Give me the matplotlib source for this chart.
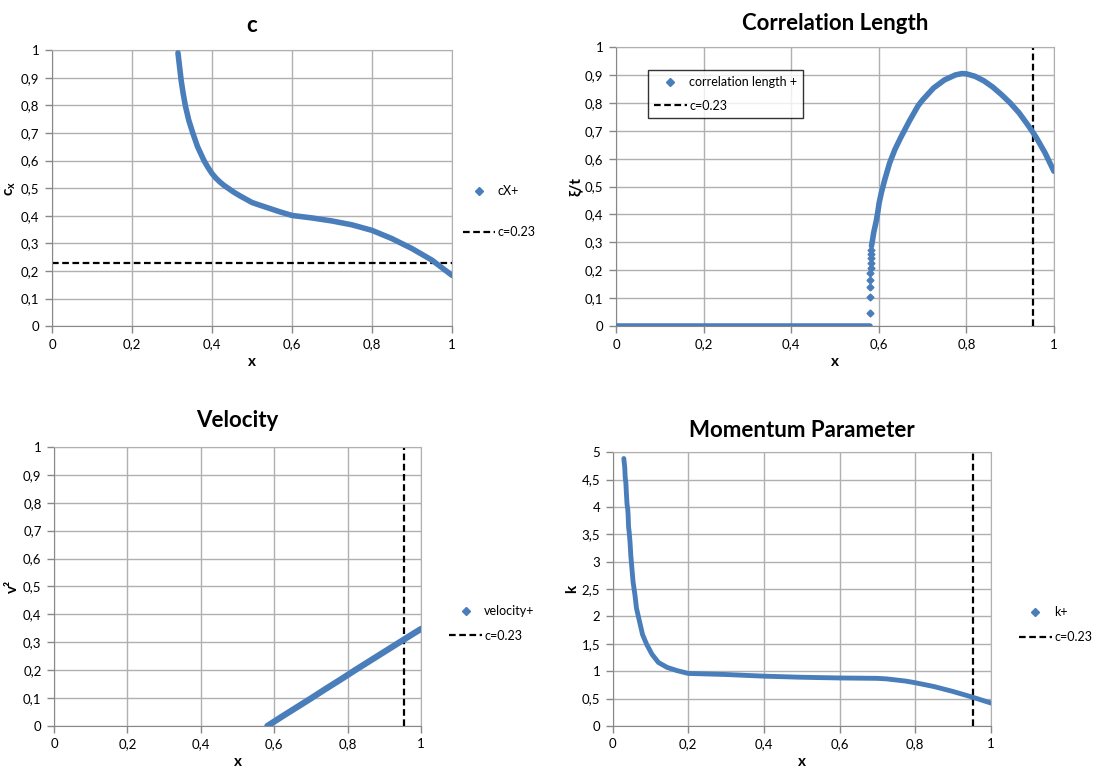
import matplotlib
matplotlib.use("Agg")
import matplotlib.pyplot as plt
from matplotlib.ticker import FuncFormatter, MultipleLocator

plt.rcParams['font.family'] = ['Lato', 'DejaVu Sans']
plt.rcParams['mathtext.fontset'] = 'custom'
plt.rcParams['mathtext.rm'] = 'Lato'
plt.rcParams['mathtext.it'] = 'Lato:italic'
plt.rcParams['mathtext.bf'] = 'Lato:bold'

# ---- data ----
# c panel
c_x = [0.315, 0.319, 0.323, 0.328, 0.334, 0.342, 0.352, 0.364, 0.380, 0.390,
       0.400, 0.410, 0.420, 0.430, 0.440, 0.455, 0.470, 0.485, 0.500, 0.520,
       0.545, 0.570, 0.60, 0.65, 0.70, 0.75, 0.80, 0.85, 0.90, 0.95, 1.00]
c_y = [0.99, 0.94, 0.89, 0.843, 0.795, 0.746, 0.70, 0.65, 0.60, 0.575,
       0.553, 0.536, 0.522, 0.51, 0.50, 0.485, 0.472, 0.46, 0.448, 0.438,
       0.426, 0.414, 0.401, 0.392, 0.381, 0.367, 0.347, 0.317, 0.281, 0.239, 0.184]
c_ref = 0.23

# correlation length panel
corr_x_flat = [0.0, 0.1, 0.2, 0.3, 0.4, 0.5, 0.58]
corr_y_flat = [0, 0, 0, 0, 0, 0, 0]
corr_x_jump = [0.5800, 0.5802, 0.5805, 0.5808, 0.5811, 0.5814, 0.5817, 0.5820, 0.5824, 0.5828]
corr_y_jump = [0.048, 0.106, 0.139, 0.166, 0.189, 0.209, 0.227, 0.243, 0.257, 0.272]
corr_x_curve = [0.5835, 0.586, 0.5885, 0.592, 0.595, 0.598, 0.601, 0.606, 0.614, 0.625,
                0.637, 0.65, 0.67, 0.69, 0.70, 0.725, 0.75, 0.775, 0.79, 0.80,
                0.82, 0.84, 0.86, 0.88, 0.90, 0.92, 0.94, 0.953, 0.96, 0.98, 1.0]
corr_y_curve = [0.287, 0.31, 0.335, 0.36, 0.382, 0.41, 0.442, 0.478, 0.526, 0.585,
                0.633, 0.675, 0.735, 0.79, 0.81, 0.853, 0.882, 0.90, 0.905, 0.904,
                0.895, 0.879, 0.857, 0.83, 0.80, 0.765, 0.722, 0.692, 0.675, 0.62, 0.555]

# velocity panel
v_x = [0.581, 0.62, 0.66, 0.70, 0.74, 0.78, 0.82, 0.86, 0.90, 0.94, 0.98, 1.0]
v_y = [0.0, 0.033, 0.066, 0.099, 0.133, 0.166, 0.200, 0.233, 0.266, 0.299, 0.332, 0.348]

# momentum parameter panel
k_x = [0.0295, 0.032, 0.033, 0.035, 0.036, 0.037, 0.038, 0.040, 0.041, 0.0415,
       0.042, 0.044, 0.046, 0.048, 0.051, 0.054, 0.059, 0.063, 0.071, 0.079,
       0.090, 0.104, 0.121, 0.144, 0.171, 0.20, 0.30, 0.40, 0.50, 0.60,
       0.70, 0.725, 0.75, 0.775, 0.80, 0.85, 0.90, 0.95, 1.0]
k_y = [4.886, 4.72, 4.56, 4.43, 4.29, 4.17, 4.05, 3.95, 3.84, 3.74,
       3.64, 3.52, 3.35, 3.11, 2.87, 2.63, 2.39, 2.15, 1.91, 1.67,
       1.49, 1.31, 1.16, 1.07, 1.01, 0.96, 0.94, 0.91, 0.89, 0.877,
       0.87, 0.86, 0.84, 0.82, 0.79, 0.72, 0.63, 0.53, 0.42]

x_vline = 0.953

blue = '#4A7EBB'
grid_col = '#B0B0B0'
dash = (0, (3, 1.6))

fig = plt.figure(figsize=(10.96, 7.71), dpi=100)

comma = FuncFormatter(lambda v, p: ('%g' % round(v, 3)).replace('.', ','))


def style(ax, ymax, ystep):
    ax.set_xlim(0, 1)
    ax.set_ylim(0, ymax)
    ax.xaxis.set_major_locator(MultipleLocator(0.2))
    ax.yaxis.set_major_locator(MultipleLocator(ystep))
    ax.xaxis.set_major_formatter(comma)
    ax.yaxis.set_major_formatter(comma)
    ax.grid(True, color=grid_col, lw=1)
    ax.set_axisbelow(True)
    for s in ax.spines.values():
        s.set_color(grid_col)
    ax.spines['left'].set_color('#888888')
    ax.spines['bottom'].set_color('#888888')
    ax.tick_params(direction='out', length=5, width=1, color='#888888',
                   labelsize=9.5, pad=4)
    ax.set_xlabel('x', fontsize=11, fontweight='bold', labelpad=3)


def series(ax, xs, ys, lw=4.0, label=None):
    # dense Excel markers look like a thick band -> thick line
    ax.plot(xs, ys, color=blue, lw=lw, solid_capstyle='round', solid_joinstyle='round', zorder=3)
    ax.plot([], [], ls='none', marker='D', ms=4, color=blue, label=label)


def outside_legend(ax, x0, yc, spacing):
    ax.legend(loc='center left', bbox_to_anchor=(x0, yc), frameon=False,
              fontsize=9, handlelength=2.6, labelspacing=spacing, handletextpad=0.2,
              borderaxespad=0)


# ---- c ----
ax1 = fig.add_axes([0.0474, 0.577, 0.365, 0.358])
style(ax1, 1, 0.1)
series(ax1, c_x, c_y, label='cX+')
ax1.axhline(c_ref, color='black', ls=dash, lw=1.6, label='c=0.23', zorder=2)
ax1.set_title('c', fontsize=16, fontweight='bold', pad=13)
ax1.set_ylabel(r'$\mathbf{c_x}$', fontsize=11, labelpad=2)
outside_legend(ax1, 1.015, 0.415, 2.3)

# ---- correlation length ----
ax2 = fig.add_axes([0.562, 0.577, 0.3996, 0.362])
style(ax2, 1, 0.1)
ax2.plot(corr_x_flat, corr_y_flat, color=blue, lw=4, solid_capstyle='round', zorder=3)
ax2.plot(corr_x_jump, corr_y_jump, ls='none', marker='D', ms=3.5, color=blue, zorder=3)
series(ax2, corr_x_curve, corr_y_curve, label='correlation length +')
ax2.axvline(x_vline, color='black', ls=dash, lw=1.6, label='c=0.23', zorder=2)
ax2.set_title('Correlation Length', fontsize=16, fontweight='bold', pad=12)
ax2.set_ylabel('ξ/t', fontsize=11, fontweight='bold', labelpad=2)
leg = ax2.legend(loc='upper left', bbox_to_anchor=(0.073, 0.917), frameon=True, fancybox=False,
                 fontsize=9, handlelength=2.6, labelspacing=0.9, handletextpad=0.2,
                 borderpad=0.5, borderaxespad=0)
leg.get_frame().set_edgecolor('black')
leg.get_frame().set_linewidth(1.0)

# ---- velocity ----
ax3 = fig.add_axes([0.0493, 0.0584, 0.335, 0.362])
style(ax3, 1, 0.1)
series(ax3, v_x, v_y, lw=4.5, label='velocity+')
ax3.axvline(x_vline, color='black', ls=dash, lw=1.6, label='c=0.23', zorder=2)
ax3.set_title('Velocity', fontsize=16, fontweight='bold', pad=14)
ax3.set_ylabel('v²', fontsize=11, fontweight='bold', labelpad=2)
outside_legend(ax3, 1.063, 0.367, 1.0)

# ---- momentum parameter ----
ax4 = fig.add_axes([0.559, 0.0584, 0.345, 0.355])
style(ax4, 5, 0.5)
series(ax4, k_x, k_y, lw=3.5, label='k+')
ax4.axvline(x_vline, color='black', ls=dash, lw=1.6, label='c=0.23', zorder=2)
ax4.set_title('Momentum Parameter', fontsize=16, fontweight='bold', pad=11)
ax4.set_ylabel('k', fontsize=11, fontweight='bold', labelpad=2)
outside_legend(ax4, 1.062, 0.37, 1.0)

fig.savefig('out.png', dpi=100)
